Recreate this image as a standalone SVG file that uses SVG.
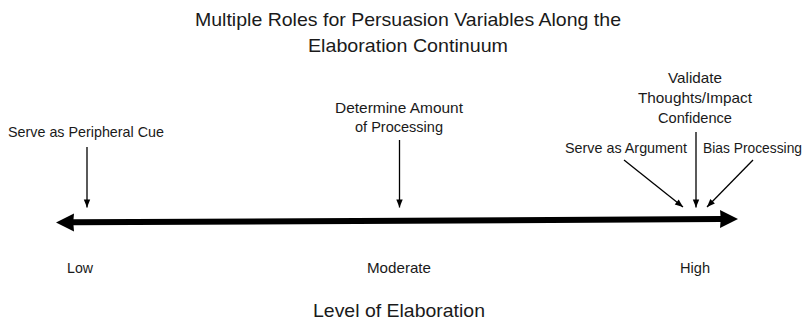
<svg xmlns="http://www.w3.org/2000/svg" width="806" height="320" viewBox="0 0 806 320">
  <style>
    text { font-family: "Liberation Sans", Arial, sans-serif; fill: #1a1a1a; }
    .title { font-size: 19px; }
    .lbl { font-size: 14.5px; }
    .axis { font-size: 19px; }
    .thin { stroke: #000; stroke-width: 1.3; fill: none; }
  </style>
  <defs>
    <marker id="ah" markerUnits="userSpaceOnUse" markerWidth="10" markerHeight="10" viewBox="0 0 10 10" refX="9" refY="5" orient="auto">
      <path d="M1,1.8 L9,5 L1,8.2 Z" fill="#000"/>
    </marker>
  </defs>
  <g id="title">
    <text class="title" x="195" y="26" textLength="426" lengthAdjust="spacingAndGlyphs">Multiple Roles for Persuasion Variables Along the</text>
    <text class="title" x="308" y="52" textLength="200" lengthAdjust="spacingAndGlyphs">Elaboration Continuum</text>
  </g>
  <g id="continuum">
    <polygon points="56,222.5 74,213.5 73.5,219.3 720.5,216.1 720,210 738,219 720,228 720.5,222.1 73.5,225.3 74,231.5" fill="#000"/>
  </g>
  <g id="peripheral">
    <text class="lbl" x="8" y="137" textLength="156" lengthAdjust="spacingAndGlyphs">Serve as Peripheral Cue</text>
  </g>
  <g id="amount">
    <text class="lbl" x="335" y="113" textLength="128" lengthAdjust="spacingAndGlyphs">Determine Amount</text>
    <text class="lbl" x="355" y="132" textLength="88" lengthAdjust="spacingAndGlyphs">of Processing</text>
  </g>
  <g id="validate">
    <text class="lbl" x="668" y="83" textLength="54" lengthAdjust="spacingAndGlyphs">Validate</text>
    <text class="lbl" x="638" y="103" textLength="114" lengthAdjust="spacingAndGlyphs">Thoughts/Impact</text>
    <text class="lbl" x="658" y="123" textLength="74" lengthAdjust="spacingAndGlyphs">Confidence</text>
  </g>
  <g id="argument">
    <text class="lbl" x="565" y="153" textLength="122" lengthAdjust="spacingAndGlyphs">Serve as Argument</text>
  </g>
  <g id="bias">
    <text class="lbl" x="703" y="153" textLength="99" lengthAdjust="spacingAndGlyphs">Bias Processing</text>
  </g>
  <g id="connectors">
    <line class="thin" x1="87" y1="147" x2="87" y2="207.5" marker-end="url(#ah)"/>
    <line class="thin" x1="399.5" y1="140" x2="399.5" y2="207.5" marker-end="url(#ah)"/>
    <line class="thin" x1="696" y1="132" x2="696" y2="207.5" marker-end="url(#ah)"/>
    <line class="thin" x1="624" y1="160" x2="683" y2="207" marker-end="url(#ah)"/>
    <line class="thin" x1="753" y1="160" x2="707" y2="207" marker-end="url(#ah)"/>
  </g>
  <g id="scale">
    <text class="lbl" x="67" y="273" textLength="26" lengthAdjust="spacingAndGlyphs">Low</text>
    <text class="lbl" x="367" y="273" textLength="64" lengthAdjust="spacingAndGlyphs">Moderate</text>
    <text class="lbl" x="680" y="273" textLength="30" lengthAdjust="spacingAndGlyphs">High</text>
    <text class="axis" x="313" y="317" textLength="172" lengthAdjust="spacingAndGlyphs">Level of Elaboration</text>
  </g>
</svg>
